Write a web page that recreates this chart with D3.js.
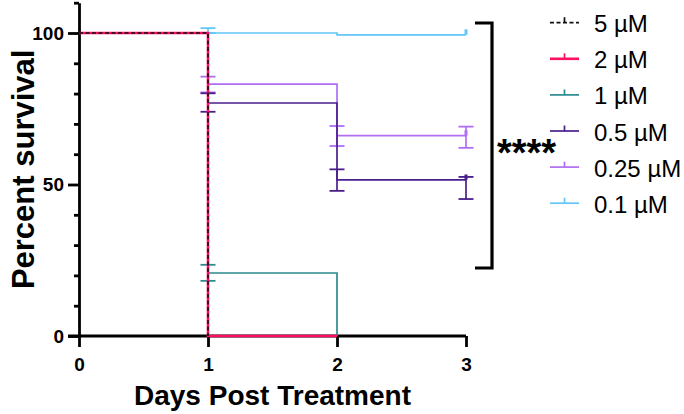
<!DOCTYPE html>
<html>
<head>
<meta charset="utf-8">
<script src="https://cdn.jsdelivr.net/npm/d3@7"></script>
<style>
  html, body { margin: 0; padding: 0; background: #fff; }
  svg { display: block; font-family: "Liberation Sans", Arial, sans-serif; }
</style>
</head>
<body>
<svg id="chart" width="684" height="414"></svg>
<script>
// ---- data ----
const days = [0, 1, 2, 3];
const seriesNames = ["5 µM", "2 µM", "1 µM", "0.5 µM", "0.25 µM", "0.1 µM"];
const seriesColors = ["#111111", "#ff0f64", "#2b8b8f", "#4a1f8c", "#b06ef2", "#62c6f7"];
// survival (%) at each day; null = no longer followed
const survival5uM   = [100, 0, null, null];
const survival2uM   = [100, 0, 0, null];
const survival1uM   = [100, 20.8, 0, null];
const survival05uM  = [100, 76.9, 51.5, 51.5];
const survival025uM = [100, 83.1, 66.1, 66.1];
const survival01uM  = [100, 100, 99.4, 99.4];
// error bar bounds at each day
const errHigh1uM   = [null, 23.5, null, null];
const errLow1uM    = [null, 18.2, null, null];
const errHigh05uM  = [null, 80.1, 55.0, 52.5];
const errLow05uM   = [null, 74.0, 47.9, 45.2];
const errHigh025uM = [null, 85.6, 69.3, 69.1];
const errLow025uM  = [null, 80.4, 62.7, 62.1];
const errHigh01uM  = [null, 101.6, null, null];
const errLow01uM   = [null, 100, null, null];
const yTicksMajor = [0, 50, 100];
const yTicksMinor = [10, 20, 30, 40, 60, 70, 80, 90, 110];
const xTicks = [0, 1, 2, 3];
const significance = "****";

const series = [
  { name: seriesNames[0], color: seriesColors[0], surv: survival5uM, hi: null, lo: null, dash: "4,2.5" },
  { name: seriesNames[1], color: seriesColors[1], surv: survival2uM, hi: null, lo: null },
  { name: seriesNames[2], color: seriesColors[2], surv: survival1uM, hi: errHigh1uM, lo: errLow1uM },
  { name: seriesNames[3], color: seriesColors[3], surv: survival05uM, hi: errHigh05uM, lo: errLow05uM },
  { name: seriesNames[4], color: seriesColors[4], surv: survival025uM, hi: errHigh025uM, lo: errLow025uM },
  { name: seriesNames[5], color: seriesColors[5], surv: survival01uM, hi: errHigh01uM, lo: errLow01uM }
];

// ---- layout ----
const svg = d3.select("#chart");
const x = d3.scaleLinear().domain([0, 3]).range([79, 466]);
const y = d3.scaleLinear().domain([0, 110]).range([336, 2.7]);

// axes
const axisW = 2.8;
const gx = svg.append("g").attr("transform", `translate(0,${y(0)})`)
  .call(d3.axisBottom(x).tickValues(xTicks).tickFormat(d3.format("d")).tickSize(11).tickSizeOuter(0));
gx.select(".domain").attr("stroke-width", axisW).attr("d", `M${x(0) - 11},0H${x(3)}`);
gx.selectAll(".tick line").attr("stroke-width", axisW);
gx.selectAll(".tick text").attr("font-size", 19).attr("font-weight", "bold")
  .attr("font-family", "Liberation Sans, Arial, sans-serif").attr("dy", "1.1em").attr("fill", "#000");

const gy = svg.append("g").attr("transform", `translate(${x(0)},0)`)
  .call(d3.axisLeft(y).tickValues(yTicksMajor).tickSize(11).tickSizeOuter(0));
gy.select(".domain").attr("stroke-width", axisW);
gy.selectAll(".tick line").attr("stroke-width", axisW);
gy.selectAll(".tick text").attr("font-size", 19).attr("font-weight", "bold")
  .attr("font-family", "Liberation Sans, Arial, sans-serif").attr("x", -15).attr("fill", "#000");
const gyMinor = svg.append("g").attr("transform", `translate(${x(0)},0)`)
  .call(d3.axisLeft(y).tickValues(yTicksMinor).tickSize(5).tickFormat(""));
gyMinor.select(".domain").remove();
gyMinor.selectAll(".tick line").attr("stroke-width", axisW);

// axis titles
svg.append("text").attr("x", (x(0) + x(3)) / 2).attr("y", 405)
  .attr("text-anchor", "middle").attr("font-size", 28).attr("font-weight", "bold")
  .text("Days Post Treatment");
svg.append("text").attr("transform", `translate(34,${(y(0) + y(110)) / 2}) rotate(-90)`)
  .attr("text-anchor", "middle").attr("font-size", 31).attr("font-weight", "bold")
  .text("Percent survival");

// survival curves (drawn so that the first series ends on top)
const line = d3.line().curve(d3.curveStepAfter).x(d => x(d.t)).y(d => y(d.v));
const plot = svg.append("g");
series.slice().reverse().forEach(s => {
  const pts = days.map((t, i) => ({ t, v: s.surv[i] })).filter(d => d.v !== null);
  const g = plot.append("g");
  g.append("path").attr("d", line(pts)).attr("fill", "none")
    .attr("stroke", s.color).attr("stroke-width", s.dash ? 1.6 : (s.name === "2 µM" ? 2.6 : 1.7))
    .attr("stroke-dasharray", s.dash || null);
  if (s.hi) {
    days.forEach((t, i) => {
      if (s.hi[i] === null) return;
      const cx = x(t);
      g.append("line").attr("x1", cx).attr("x2", cx).attr("y1", y(s.hi[i])).attr("y2", y(s.lo[i]))
        .attr("stroke", s.color).attr("stroke-width", 1.7);
      [s.hi[i], s.lo[i]].forEach(v => {
        g.append("line").attr("x1", cx - 7.5).attr("x2", cx + 7.5).attr("y1", y(v)).attr("y2", y(v))
          .attr("stroke", s.color).attr("stroke-width", 1.8);
      });
    });
  }
  // censor tick at the last followed day
  const last = pts[pts.length - 1];
  if (last.t === 3) {
    g.append("line").attr("x1", x(last.t)).attr("x2", x(last.t))
      .attr("y1", y(last.v)).attr("y2", y(last.v) - 5.5)
      .attr("stroke", s.color).attr("stroke-width", 3);
  }
});

// significance bracket
svg.append("path").attr("d", "M475,23H492V268H475").attr("fill", "none")
  .attr("stroke", "#000").attr("stroke-width", 3.2);
svg.append("text").attr("x", 497).attr("y", 166).attr("font-size", 38).attr("font-weight", "bold")
  .text(significance);

// legend
const legend = svg.append("g");
series.forEach((s, i) => {
  const ly = 22.7 + i * 36.1;
  legend.append("line").attr("x1", 550).attr("x2", 579).attr("y1", ly).attr("y2", ly)
    .attr("stroke", s.color).attr("stroke-width", s.name === "2 µM" ? 2.6 : 1.7)
    .attr("stroke-dasharray", s.dash ? "4,2.5" : null);
  legend.append("line").attr("x1", 564.5).attr("x2", 564.5).attr("y1", ly).attr("y2", ly - 5.5)
    .attr("stroke", s.color).attr("stroke-width", 1.7);
  legend.append("text").attr("x", 594).attr("y", ly + 9.5).attr("font-size", 24)
    .attr("fill", "#000").text(s.name);
});
</script>
</body>
</html>
